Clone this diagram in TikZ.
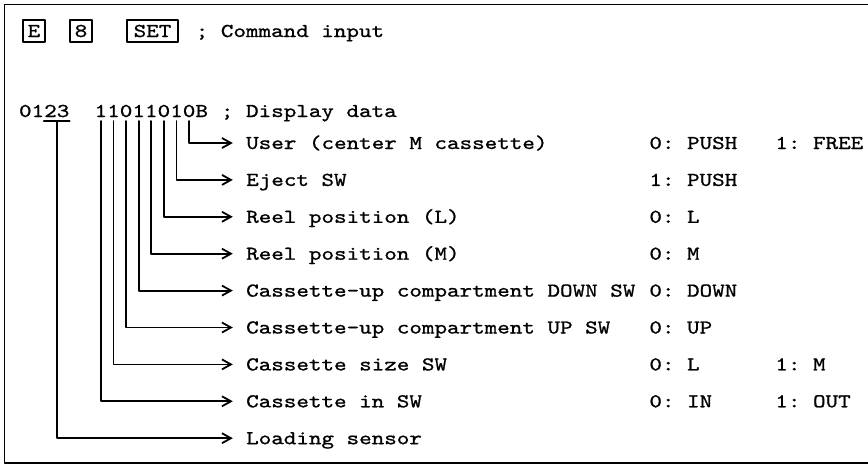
\documentclass[tikz,border=0pt]{standalone}
\usepackage{fontspec}
\setmonofont{lmmono10-regular}[Extension=.otf,FakeStretch=1.22,FakeBold=1]
\usetikzlibrary{arrows.meta}

\tikzset{
  tw/.style={font=\ttfamily\fontsize{9.8pt}{12pt}\selectfont, inner sep=0pt, text height=6pt, text depth=0pt},
  keybox/.style={tw, draw, line width=0.8pt, minimum height=11pt},
  bitnode/.style={tw, outer ysep=2pt},
  lab/.style={tw, anchor=west},
  conn/.style={line width=0.9pt, -{Straight Barb[length=4.5pt,width=5pt,line width=0.9pt]}, shorten >=6.5pt},
}

\begin{document}
\begin{tikzpicture}[x=0.5pt,y=-0.5pt,line cap=round,line join=round]
  \useasboundingbox (0,0) rectangle (868,466);
  % frame
  \draw[line width=0.9pt] (868,4.5) -- (4.5,4.5) -- (4.5,463) -- (868,463);

  % command input
  \node[keybox,minimum width=11pt] (keyE) at (34,31) {E};
  \node[keybox,minimum width=11pt] (key8) at (81,31) {8};
  \node[keybox,minimum width=25.5pt] (keySET) at (152.5,31) {SET};
  \node[lab] (cmd) at (195.4,31) {; Command input};

  % display data
  \node[bitnode] (d01) at (31.6,111) {01};
  \node[bitnode] (d23) at (56.8,111) {23};
  \foreach \b [count=\k from 0] in {0,1,0,1,1,0,1,1}
    \node[bitnode] (bit\k) at ({19+12.6*(13.5-\k)},111) {\b};
  \node[bitnode] (bitB) at ({19+12.6*14.5},111) {B};
  \node[lab] (disp) at ({19+12.6*16},111) {; Display data};

  % bit labels
  \foreach \txt [count=\k from 0] in {{User (center M cassette)}, {Eject SW},
      {Reel position (L)}, {Reel position (M)}, {Cassette-up compartment DOWN SW},
      {Cassette-up compartment UP SW}, {Cassette size SW}, {Cassette in SW},
      {Loading sensor}}
    \node[lab] (lab\k) at (245.8,{143+36.9*\k}) {\txt};

  % values
  \node[lab] (val0a) at (649,143) {0: PUSH};
  \node[lab] (val0b) at (775,143) {1: FREE};
  \node[lab] (val1a) at (649,179.9) {1: PUSH};
  \node[lab] (val2a) at (649,216.8) {0: L};
  \node[lab] (val3a) at (649,253.7) {0: M};
  \node[lab] (val4a) at (649,290.6) {0: DOWN};
  \node[lab] (val5a) at (649,327.5) {0: UP};
  \node[lab] (val6a) at (649,364.4) {0: L};
  \node[lab] (val6b) at (775,364.4) {1: M};
  \node[lab] (val7a) at (649,401.3) {0: IN};
  \node[lab] (val7b) at (775,401.3) {1: OUT};

  % connectors
  \foreach \k in {0,...,7}
    \draw[conn] (bit\k.south) |- (lab\k.west);
  \draw[line width=0.9pt] (d23.south west) -- (d23.south east);
  \draw[conn] (d23.south) |- (lab8.west);
\end{tikzpicture}
\end{document}
